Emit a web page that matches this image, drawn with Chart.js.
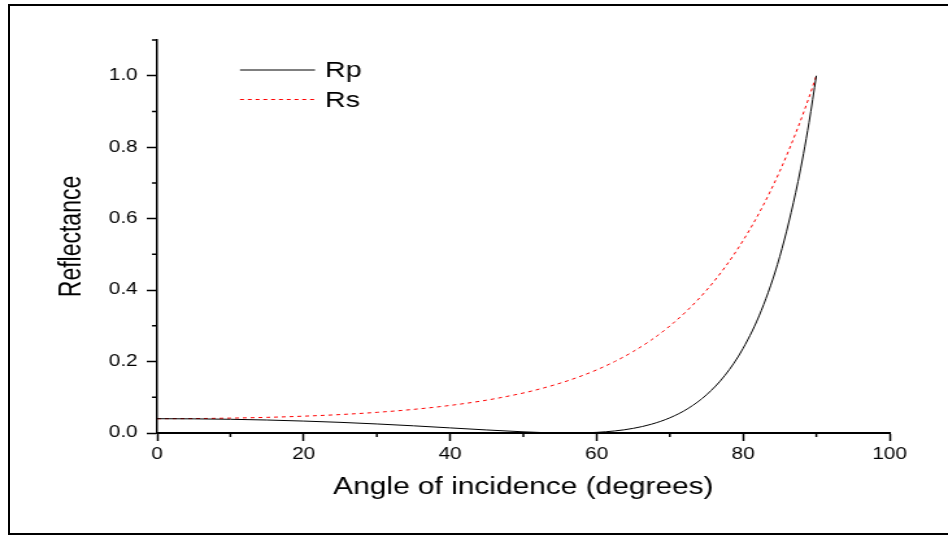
<!DOCTYPE html>
<html>
<head>
<meta charset="utf-8">
<script src="https://cdn.jsdelivr.net/npm/chart.js@4/dist/chart.umd.min.js"></script>
<style>
  html, body { margin: 0; padding: 0; background: #fff; overflow: hidden; width: 948px; height: 536px; }
  #frame { position: absolute; left: 8px; top: 4px; width: 960px; height: 527px;
           border-top: 2px solid #000; border-left: 2px solid #000; border-bottom: 2px solid #000; }
  #wrap { position: absolute; left: 0; top: 0; width: 730px; height: 536px;
          transform: scaleX(1.29863); transform-origin: 0 0; }
</style>
</head>
<body>
<div id="frame"></div>
<div id="wrap"><canvas id="c" width="730" height="536"></canvas></div>
<script>
// ---- data ----
const angles = [0, 5, 10, 15, 20, 25, 30, 35, 40, 45, 50, 52.5, 55, 57.5, 60, 62.5, 65, 67.5, 70, 72.5, 75, 77.5, 80, 82.5, 85, 87.5, 89, 90];
const rpValues = [0.040, 0.0396, 0.0384, 0.0363, 0.0334, 0.0298, 0.0253, 0.0201, 0.0143, 0.0085, 0.0033, 0.0013, 0.0002, 0.0002, 0.0018, 0.0058, 0.0130, 0.0247, 0.0425, 0.0688, 0.1068, 0.1608, 0.2369, 0.3435, 0.4933, 0.7035, 0.8689, 1.0];
const rsValues = [0.040, 0.0404, 0.0417, 0.0438, 0.0471, 0.0516, 0.0578, 0.0661, 0.0772, 0.0920, 0.1120, 0.1246, 0.1393, 0.1565, 0.1766, 0.2003, 0.2281, 0.2608, 0.2996, 0.3454, 0.3994, 0.4633, 0.5387, 0.6276, 0.7323, 0.8556, 0.9395, 1.0];
const seriesNames = ['Rp', 'Rs'];
const xTickValues = [0, 20, 40, 60, 80, 100];
const xMinorTicks = [10, 30, 50, 70, 90];
const yTickValues = [0, 0.2, 0.4, 0.6, 0.8, 1.0];
const yTickLabels = ['0.0', '0.2', '0.4', '0.6', '0.8', '1.0'];
const yMinorTicks = [0.1, 0.3, 0.5, 0.7, 0.9, 1.1];
const xTitle = 'Angle of incidence (degrees)';
const yTitle = 'Reflectance';

const FONT = "'Liberation Sans', Arial, Helvetica, sans-serif";

const toPoints = (ys) => angles.map((a, i) => ({ x: a, y: ys[i] }));

const minorTicks = {
  id: 'minorTicks',
  afterDraw(chart) {
    const { ctx, chartArea, scales } = chart;
    ctx.save();
    ctx.strokeStyle = '#000';
    ctx.lineWidth = 1.5;
    ctx.beginPath();
    yMinorTicks.forEach(v => {
      const py = scales.y.getPixelForValue(v);
      ctx.moveTo(chartArea.left, py);
      ctx.lineTo(chartArea.left - 4, py);
    });
    xMinorTicks.forEach(v => {
      const px = scales.x.getPixelForValue(v);
      ctx.moveTo(px, chartArea.bottom);
      ctx.lineTo(px, chartArea.bottom + 4);
    });
    ctx.stroke();
    ctx.restore();
  }
};

const insideLegend = {
  id: 'insideLegend',
  afterDraw(chart) {
    const { ctx } = chart;
    const x0 = 184.8, x1 = 242.6, tx = 250.3;
    const rows = [70, 99.5];
    ctx.save();
    chart.data.datasets.forEach((ds, i) => {
      const y = rows[i];
      ctx.strokeStyle = ds.borderColor;
      ctx.lineWidth = ds.borderWidth;
      ctx.setLineDash(ds.borderDash || []);
      ctx.beginPath();
      ctx.moveTo(x0, y);
      ctx.lineTo(x1, y);
      ctx.stroke();
      ctx.setLineDash([]);
      ctx.fillStyle = '#000';
      ctx.font = '22px ' + FONT;
      ctx.textBaseline = 'middle';
      ctx.textAlign = 'left';
      ctx.fillText(ds.label, tx, y + 1);
    });
    ctx.restore();
  }
};

new Chart(document.getElementById('c'), {
  type: 'scatter',
  data: {
    datasets: [
      {
        label: seriesNames[0],
        data: toPoints(rpValues),
        showLine: true,
        borderColor: '#000000',
        borderWidth: 1,
        pointRadius: 0,
        cubicInterpolationMode: 'monotone'
      },
      {
        label: seriesNames[1],
        data: toPoints(rsValues),
        showLine: true,
        borderColor: '#ff0000',
        borderWidth: 1,
        borderDash: [3, 3],
        pointRadius: 0,
        cubicInterpolationMode: 'monotone'
      }
    ]
  },
  options: {
    responsive: false,
    animation: false,
    devicePixelRatio: 1,
    layout: { padding: { left: 8, right: 45, top: 40, bottom: 4 } },
    plugins: { legend: { display: false }, tooltip: { enabled: false } },
    scales: {
      x: {
        type: 'linear',
        min: 0, max: 100,
        afterBuildTicks: (s) => { s.ticks = xTickValues.map(v => ({ value: v })); },
        afterFit: (s) => { s.height = 99; },
        grid: { drawOnChartArea: false, drawTicks: true, tickLength: 8, tickColor: '#000', tickWidth: 1.5 },
        border: { display: true, color: '#000', width: 2 },
        ticks: { color: '#000', font: { family: FONT, size: 16 }, padding: 4, maxRotation: 0, autoSkip: false },
        title: { display: true, text: xTitle, color: '#000', font: { family: FONT, size: 23 }, padding: { top: 0, bottom: 31 } }
      },
      y: {
        type: 'linear',
        min: 0, max: 1.1,
        afterBuildTicks: (s) => { s.ticks = yTickValues.map(v => ({ value: v })); },
        afterFit: (s) => { s.width = 113; },
        grid: { drawOnChartArea: false, drawTicks: true, tickLength: 8, tickColor: '#000', tickWidth: 1.5 },
        border: { display: true, color: '#000', width: 1.5 },
        ticks: {
          color: '#000', font: { family: FONT, size: 16 }, padding: 7, autoSkip: false,
          callback: (v) => { const i = yTickValues.findIndex(t => Math.abs(t - v) < 1e-9); return i >= 0 ? yTickLabels[i] : ''; }
        },
        title: { display: true, text: yTitle, color: '#000', font: { family: FONT, size: 23 }, padding: { top: 34, bottom: 0 } }
      }
    }
  },
  plugins: [minorTicks, insideLegend]
});
</script>
</body>
</html>
